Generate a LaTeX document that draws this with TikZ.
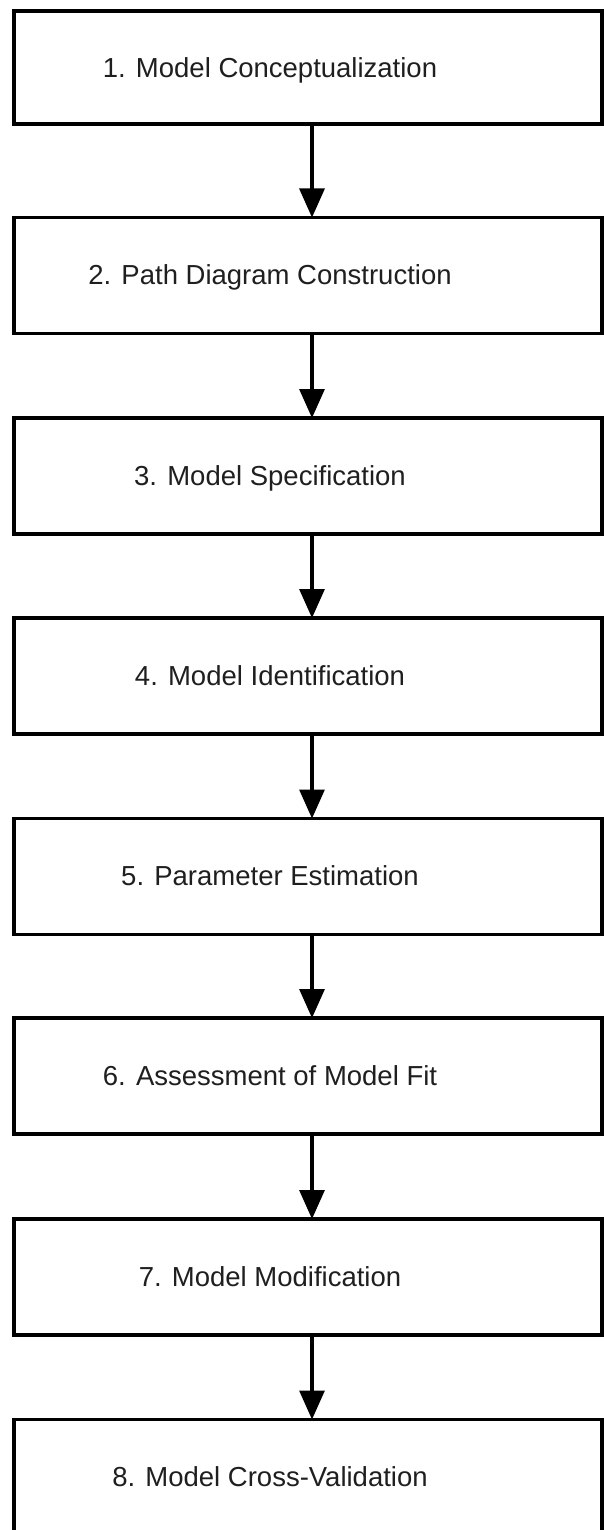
\documentclass[tikz,border=0pt]{standalone}
\usepackage{fontspec}
\setmainfont{Liberation Sans}
\usetikzlibrary{arrows.meta}
\begin{document}
\begin{tikzpicture}[x=1pt,y=-1pt,
  box/.style={draw=black,line width=3.5pt,fill=white,rectangle,inner sep=0pt,outer sep=0pt},
  lbl/.style={anchor=base,font=\fontsize{27.5}{32}\selectfont,text=black!88,inner sep=0pt},
  arr/.style={line width=3.2pt,-{Triangle[length=29pt,width=25pt]}}]
\clip (0,0) rectangle (604,1530);
\useasboundingbox (0,0) rectangle (604,1530);
\fill[white] (0,0) rectangle (604,1530);
\coordinate (ax) at (312,0);
% boxes
\node[box,minimum width=588pt,minimum height=113pt] (b1) at (308,67.5) {};
\foreach \k/\t in {2/217.5,3/418,4/618,5/818.5,6/1018,7/1219,8/1419.5}{
  \node[box,minimum width=588pt,minimum height=116pt] (b\k) at (308,\t+58) {};
}
% labels
\node[lbl] (t1) at (270,78) {1. Model Conceptualization};
\node[lbl] (t2) at (270,217.5+67) {2. Path Diagram Construction};
\node[lbl] (t3) at (270,418+67) {3. Model Specification};
\node[lbl] (t4) at (270,618+67) {4. Model Identification};
\node[lbl] (t5) at (270,818.5+67) {5. Parameter Estimation};
\node[lbl] (t6) at (270,1018+67) {6. Assessment of Model Fit};
\node[lbl] (t7) at (270,1219+67) {7. Model Modification};
\node[lbl] (t8) at (270,1419.5+67) {8. Model Cross-Validation};
% arrows
\foreach \a/\b in {1/2,2/3,3/4,4/5,5/6,6/7,7/8}{
  \draw[arr] (b\a.south -| ax) -- (b\b.north -| ax);
}
\end{tikzpicture}
\end{document}
